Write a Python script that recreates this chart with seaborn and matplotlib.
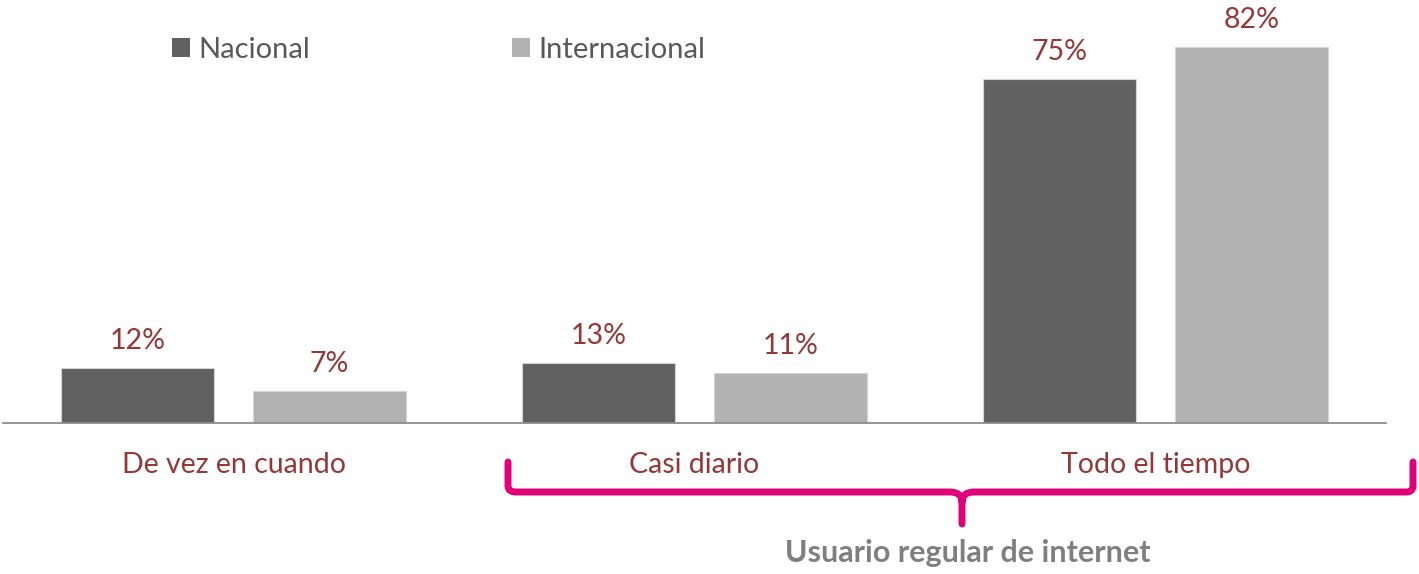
import numpy as np
import pandas as pd
import matplotlib.pyplot as plt
import seaborn as sns
from matplotlib.path import Path
from matplotlib.patches import PathPatch

categories = ["De vez en cuando", "Casi diario", "Todo el tiempo"]
series = ["Nacional", "Internacional"]
nacional = [12, 13, 75]
internacional = [7, 11, 82]
bracket_label = "Usuario regular de internet"

df = pd.DataFrame({
    "categoria": categories * 2,
    "serie": [series[0]] * 3 + [series[1]] * 3,
    "valor": nacional + internacional,
})

sns.set_theme(style="white")
plt.rcParams['font.family'] = ['Lato', 'DejaVu Sans']

W, H = 1419, 574
fig = plt.figure(figsize=(W / 100, H / 100), dpi=100)
ax = fig.add_axes([3 / W, 1 - 423 / H, (1388 - 5) / W, 423 / H])

sns.barplot(data=df, x="categoria", y="valor", hue="serie", order=categories,
            hue_order=series, palette=["#616161", "#b2b2b2"], width=0.833,
            gap=0.207, edgecolor="#d4d4d4", linewidth=0.8, ax=ax)

ax.set_xlim(-0.5, 2.5)
ax.set_ylim(0, 423 / 4.586)

red = "#953735"
for cont in ax.containers:
    ax.bar_label(cont, labels=[f"{v:.0f}%" for v in cont.datavalues],
                 padding=10, fontsize=20.5, color=red)

ax.set_xlabel("")
ax.set_ylabel("")
ax.set_yticks([])
ax.tick_params(axis="x", length=0, pad=21, labelsize=20.5, labelcolor=red)
for s in ["top", "left", "right"]:
    ax.spines[s].set_visible(False)
ax.spines["bottom"].set_color("#8c8c8c")
ax.spines["bottom"].set_linewidth(1.3)

leg = ax.legend(loc="center left", bbox_to_anchor=(157 / 1383, 1 - 50 / 423),
                ncol=2, frameon=False, fontsize=21, handlelength=0.62,
                handleheight=0.62, handletextpad=0.3, columnspacing=6.9,
                borderaxespad=0)
for t in leg.get_texts():
    t.set_color("#595959")
for h in leg.legend_handles:
    h.set_edgecolor("none")

# bracket under the last two categories
def fp(x, y):
    return (x / W, 1 - y / H)

verts = [fp(508, 462), fp(508, 486), fp(508, 492), fp(516, 492),
         fp(950, 492), fp(962, 492), fp(962, 502),
         fp(962, 524),
         fp(962, 502), fp(962, 492), fp(974, 492),
         fp(1406, 492), fp(1413, 492), fp(1413, 486),
         fp(1413, 462)]
codes = [Path.MOVETO, Path.LINETO, Path.CURVE3, Path.CURVE3,
         Path.LINETO, Path.CURVE3, Path.CURVE3,
         Path.LINETO,
         Path.MOVETO, Path.CURVE3, Path.CURVE3,
         Path.LINETO, Path.CURVE3, Path.CURVE3,
         Path.LINETO]
patch = PathPatch(Path(verts, codes), facecolor="none", edgecolor="#e2007a",
                  lw=5, capstyle="round", joinstyle="round",
                  transform=fig.transFigure)
fig.add_artist(patch)

fig.text(968 / W, 1 - 553 / H, bracket_label, ha="center", va="center",
         fontsize=22, fontweight="bold", color="#7f7f7f")

fig.savefig("out.png", dpi=100)
